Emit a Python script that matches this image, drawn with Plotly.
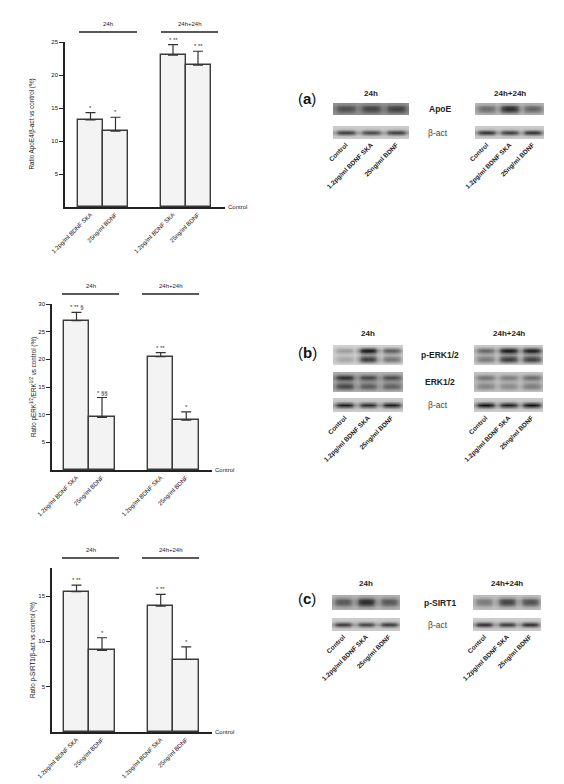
import numpy as np
import plotly.graph_objects as go

W, H = 564, 784

groups = ["24h", "24h+24h"]
conditions = ["1.2pg/ml BDNF SKA", "25ng/ml BDNF"]
lanes = ["Control", "1.2pg/ml BDNF SKA", "25ng/ml BDNF"]

# bars: 24h SKA, 24h BDNF, 24h+24h SKA, 24h+24h BDNF
apoe_mean = [13.2, 11.5, 23.0, 21.5]
apoe_err = [1.1, 2.1, 1.6, 2.1]
apoe_sig = ["*", "*", "* **", "* **"]

perk_mean = [27.0, 9.5, 20.5, 9.0]
perk_err = [1.5, 3.6, 0.7, 1.5]
perk_sig = ["* ** §", "* §§", "* **", "*"]

sirt_mean = [15.5, 9.0, 13.9, 8.0]
sirt_err = [0.7, 1.4, 1.3, 1.4]
sirt_sig = ["* **", "*", "* **", "*"]

# blot band darkness per lane (Control, SKA, BDNF), 0 = none, 1 = black
apoe_24 = [0.50, 0.58, 0.60]
apoe_48 = [0.45, 0.80, 0.50]
perk_24 = [0.30, 0.95, 0.62]
perk_48 = [0.55, 0.95, 0.92]
erk_24 = [0.80, 0.65, 0.62]
erk_48 = [0.45, 0.40, 0.50]
sirt_24 = [0.55, 0.80, 0.55]
sirt_48 = [0.40, 0.68, 0.62]
bact_24 = [0.88, 0.82, 0.88]
bact_48 = [0.95, 0.88, 0.95]


def fx(x):
    return x / W


def fy(y):
    return 1 - y / H


fig = go.Figure()
annotations = []
shapes = []
font = "Arial, Liberation Sans, sans-serif"
n_ax = [0]


def new_axes(x0, x1, y0, y1):
    n_ax[0] += 1
    n = n_ax[0]
    s = "" if n == 1 else str(n)
    fig.layout["xaxis" + s] = dict(domain=[fx(x0), fx(x1)], anchor="y" + s, automargin=False)
    fig.layout["yaxis" + s] = dict(domain=[fy(y1), fy(y0)], anchor="x" + s, automargin=False)
    return "x" + s, "y" + s, "xaxis" + s, "yaxis" + s


def label(x, y, text, size, xanchor="center", yanchor="middle", **kw):
    annotations.append(dict(x=fx(x), y=fy(y), xref="paper", yref="paper", text=text,
                            showarrow=False, xanchor=xanchor, yanchor=yanchor,
                            font=dict(size=size, color=kw.pop("color", "#222")), **kw))


# ---------------- bar charts ----------------
bar_panels = [
    dict(mean=apoe_mean, err=apoe_err, sig=apoe_sig, box=(65, 225, 42, 207), ymax=25,
         xr=[-1.02, 5.38], title="Ratio ApoE4/β-act vs control (%)", tx=32,
         lines=[(79, 137), (161, 218)], ly=32),
    dict(mean=perk_mean, err=perk_err, sig=perk_sig, box=(52, 212, 304, 470), ymax=30,
         xr=[-0.96, 5.31], title="Ratio pERK<sup>1/2</sup>/ERK<sup>1/2</sup> vs control (%)", tx=33,
         lines=[(62, 119), (142, 199)], ly=294),
    dict(mean=sirt_mean, err=sirt_err, sig=sirt_sig, box=(52, 212, 568, 732), ymax=18.1,
         xr=[-0.96, 5.31], title="Ratio p-SIRT1/β-act vs control (%)", tx=33,
         lines=[(62, 119), (142, 199)], ly=558),
]

pos = [g * 3.3 + i for g in range(len(groups)) for i in range(len(conditions))]

for p in bar_panels:
    x0, x1, y0, y1 = p["box"]
    xa, ya, xk, yk = new_axes(x0, x1, y0, y1)
    fig.add_trace(go.Bar(
        x=pos, y=p["mean"], width=1, xaxis=xa, yaxis=ya,
        marker=dict(color="#f3f3f3", line=dict(color="#3a3a3a", width=1.4)),
        error_y=dict(type="data", symmetric=False, array=p["err"],
                     arrayminus=[0] * len(pos), color="#333", thickness=1.2, width=5),
        hoverinfo="skip"))
    fig.layout[xk].update(range=p["xr"], showline=True, linecolor="#222", linewidth=1.5,
                          showgrid=False, zeroline=False, ticks="",
                          tickvals=pos, ticktext=conditions * len(groups), tickangle=-45,
                          tickfont=dict(size=6, color="#111"))
    fig.layout[yk].update(range=[0, p["ymax"]], showline=True, linecolor="#222", linewidth=1.5,
                          showgrid=False, zeroline=False, ticks="outside", ticklen=4,
                          tickwidth=1.2, tickcolor="#222",
                          tickvals=list(range(5, int(p["ymax"]) + 1, 5)),
                          tickfont=dict(size=6, color="#111"))
    for xv, m, e, s in zip(pos, p["mean"], p["err"], p["sig"]):
        annotations.append(dict(x=xv, y=m + e, xref=xa, yref=ya, text=s, showarrow=False,
                                xanchor="center", yanchor="bottom",
                                font=dict(size=6, color="#333")))
    label(x1 + 1, y1, "Control", 6, xanchor="left")
    label(p["tx"], (y0 + y1) / 2, p["title"], 6.3, textangle=-90, color="#111")
    for g, (lx0, lx1) in zip(groups, p["lines"]):
        shapes.append(dict(type="line", xref="paper", yref="paper", x0=fx(lx0), x1=fx(lx1),
                           y0=fy(p["ly"]), y1=fy(p["ly"]), line=dict(color="#222", width=1.6)))
        label((lx0 + lx1) / 2, p["ly"] - 3, g, 6, yanchor="bottom")

# ---------------- western blots ----------------
col_prof = [0.35, 0.85, 1.0, 1.0, 1.0, 0.85, 0.35]
prof_bact = [0.0, 0.1, 0.55, 1.0, 0.55, 0.1, 0.0]
prof_apoe = [0.2, 0.5, 0.9, 1.0, 0.75, 0.4, 0.2]
prof_sirt = [0.1, 0.4, 0.9, 1.0, 0.65, 0.25, 0.1]
prof_erk = [0.05, 0.45, 1.0, 0.55, 0.35, 0.6, 0.8, 0.4, 0.05]

gs = [[0, "#ebebeb"], [0.2, "#c8c8c8"], [0.55, "#777777"], [1, "#080808"]]


def add_blot(vals, prof, bg, box, labels=False):
    x0, x1, y0, y1 = box
    xa, ya, xk, yk = new_axes(x0, x1, y0, y1)
    cp = np.array(col_prof)
    z = np.array([[bg + (1 - bg) * v * r * c for v in vals for c in cp] for r in prof])
    fig.add_trace(go.Heatmap(z=z, xaxis=xa, yaxis=ya, zmin=0, zmax=1, colorscale=gs,
                             zsmooth="best", showscale=False, hoverinfo="skip"))
    ncol = len(cp)
    fig.layout[yk].update(visible=False, autorange="reversed")
    fig.layout[xk].update(showgrid=False, zeroline=False, showline=False, ticks="",
                          range=[-0.5, ncol * len(vals) - 0.5],
                          visible=labels, tickvals=[i * ncol + (ncol - 1) / 2 for i in range(len(vals))],
                          ticktext=["<b>%s</b>" % t for t in lanes], tickangle=-45,
                          tickfont=dict(size=6.5, color="#222"))


blot_panels = [
    dict(tag="a", ty=98, head=93,
         left=(333, 409), right=(475, 544),
         rows=[("ApoE", apoe_24, apoe_48, prof_apoe, (0.42, 0.26), 103, 115),
               ("β-act", bact_24, bact_48, prof_bact, (0.18, 0.18), 126, 139)]),
    dict(tag="b", ty=352, head=333,
         left=(333, 403), right=(474, 543),
         rows=[("p-ERK1/2", perk_24, perk_48, prof_erk, (0.14, 0.18), 345, 365),
               ("ERK1/2", erk_24, erk_48, prof_erk, (0.30, 0.22), 372, 392),
               ("β-act", bact_24, bact_48, prof_bact, (0.18, 0.18), 398, 412)]),
    dict(tag="c", ty=598, head=583,
         left=(332, 400), right=(473, 541),
         rows=[("p-SIRT1", sirt_24, sirt_48, prof_sirt, (0.28, 0.22), 595, 610),
               ("β-act", bact_24, bact_48, prof_bact, (0.18, 0.18), 618, 631)]),
]

for bp in blot_panels:
    label(296, bp["ty"], "(<b>%s</b>)" % bp["tag"], 15, xanchor="left", color="#111")
    for g, (bx0, bx1) in zip(groups, [bp["left"], bp["right"]]):
        label((bx0 + bx1) / 2, bp["head"], "<b>%s</b>" % g, 8)
    for k, (name, v24, v48, prof, bg, ry0, ry1) in enumerate(bp["rows"]):
        last = k == len(bp["rows"]) - 1
        add_blot(v24, prof, bg[0], (bp["left"][0], bp["left"][1], ry0, ry1), labels=last)
        add_blot(v48, prof, bg[1], (bp["right"][0], bp["right"][1], ry0, ry1), labels=last)
        if name == "β-act":
            label(438, (ry0 + ry1) / 2, name, 8.5, color="#444")
        else:
            label(440, (ry0 + ry1) / 2, "<b>%s</b>" % name, 8.5)

fig.update_layout(width=W, height=H, margin=dict(l=0, r=0, t=0, b=0, autoexpand=False),
                  paper_bgcolor="white", plot_bgcolor="white", showlegend=False,
                  font=dict(family=font, color="#222"),
                  annotations=annotations, shapes=shapes, bargap=0)

# the page body has a default 8px margin; drop it so the figure sits at the corner
fig.write_html("out.html", config={"displayModeBar": False},
               post_script="document.body.style.margin='0';")
